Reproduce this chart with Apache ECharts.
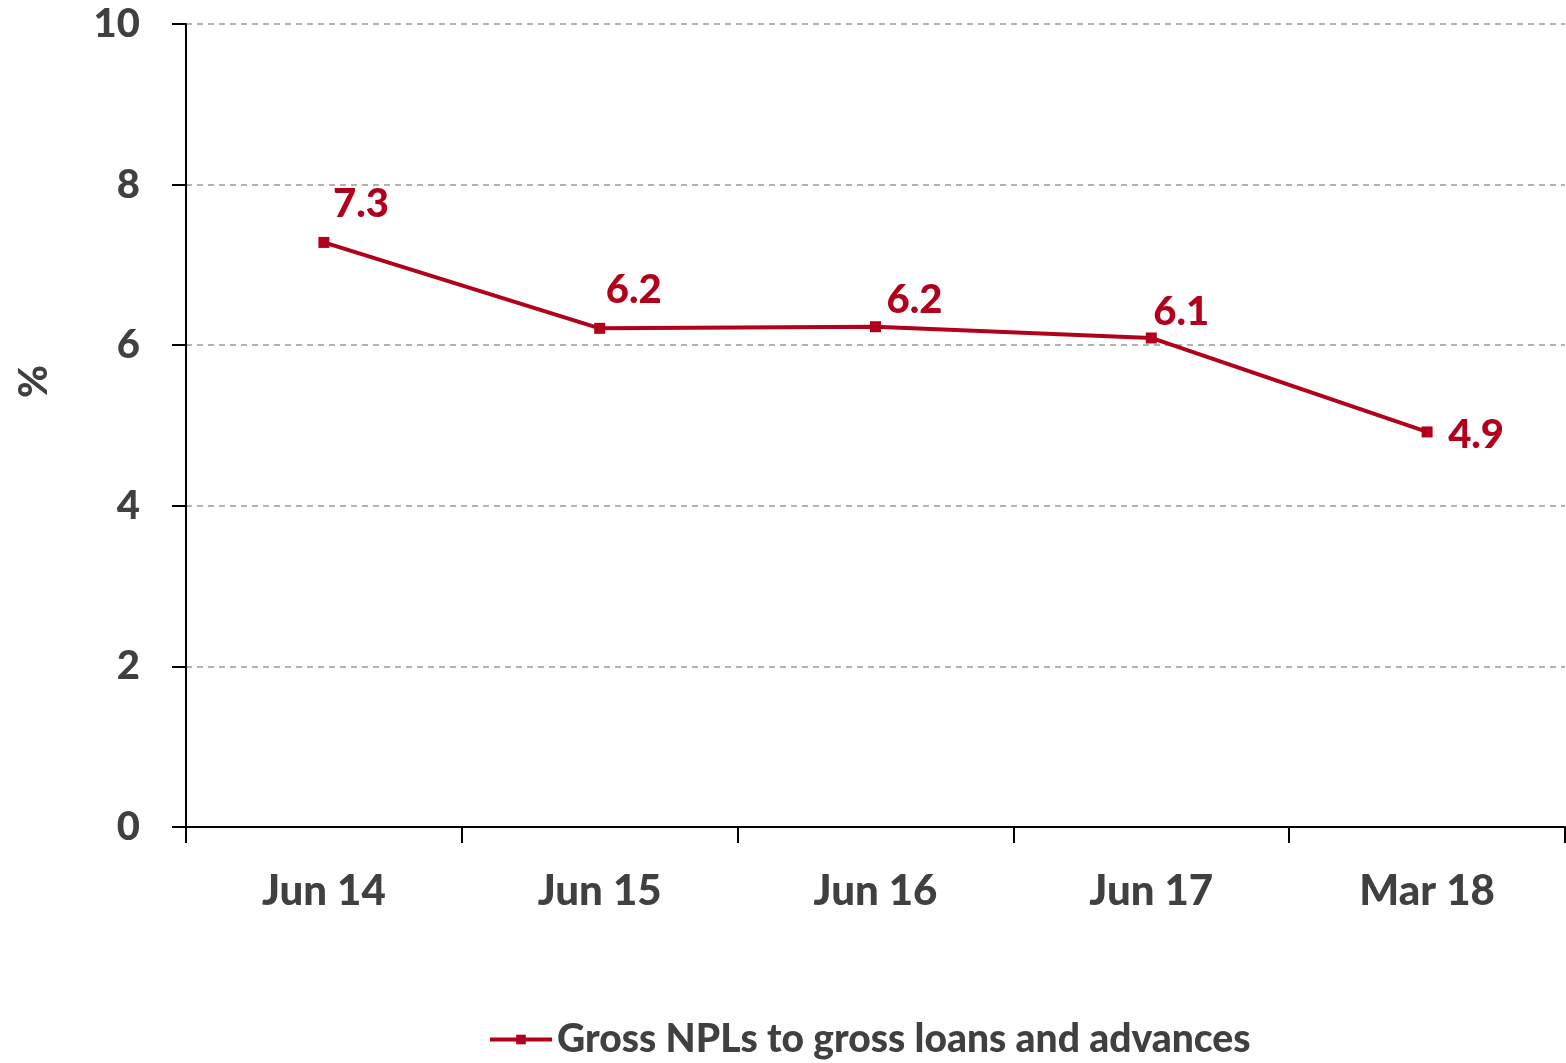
<!DOCTYPE html>
<html>
<head>
<meta charset="utf-8">
<script src="https://cdn.jsdelivr.net/npm/echarts@6/dist/echarts.min.js"></script>
<style>
  html, body { margin: 0; padding: 0; background: #fff; }
  #chart { width: 1566px; height: 1063px; }
</style>
</head>
<body>
<div id="chart"></div>
<script>
const categories = ['Jun 14', 'Jun 15', 'Jun 16', 'Jun 17', 'Mar 18']
const npls = [7.28, 6.21, 6.23, 6.09, 4.92]
const npLabels = ['7.3', '6.2', '6.2', '6.1', '4.9']
const seriesName = 'Gross NPLs to gross loans and advances'

// label placement relative to each marker (px), as in the original
const labelShift = [[37, -38], [34, -38], [39, -27], [30, -26], [49, 3]]

const red = '#B2001C'
const grey = '#404040'
const font = 'Lato, "Open Sans", sans-serif'

const chart = echarts.init(document.getElementById('chart'))

const points = npls.map((v, i) => ({
  value: v,
  label: { position: 'inside', offset: labelShift[i] },
}))

chart.setOption({
  backgroundColor: '#fff',
  textStyle: { fontFamily: font },
  grid: { left: 186, right: 1, top: 24, bottom: 236, outerBoundsMode: 'none', containLabel: false },
  legend: {
    data: [seriesName],
    left: 488,
    top: 1020,
    padding: 0,
    itemWidth: 62,
    itemHeight: 12,
    itemGap: 5,
    lineStyle: { width: 4 },
    textStyle: { fontSize: 39, fontWeight: 900, color: grey, fontFamily: font },
  },
  xAxis: {
    type: 'category',
    data: categories,
    boundaryGap: true,
    axisLine: { lineStyle: { color: '#000', width: 2 } },
    axisTick: { show: true, length: 16, lineStyle: { color: '#000', width: 2 } },
    axisLabel: { fontSize: 42, fontWeight: 900, color: grey, margin: 43 },
  },
  yAxis: {
    type: 'value',
    min: 0,
    max: 10,
    interval: 2,
    name: '%',
    nameLocation: 'middle',
    nameRotate: 90,
    nameGap: 132,
    nameTextStyle: { fontSize: 40, fontWeight: 900, color: grey, padding: [0, 0, 0, 88] },
    axisLine: { show: true, lineStyle: { color: '#000', width: 2 } },
    axisTick: { show: true, length: 14, lineStyle: { color: '#000', width: 2 } },
    axisLabel: { fontSize: 40, fontWeight: 900, color: grey, margin: 46 },
    splitLine: { lineStyle: { color: '#999', width: 1.5, type: [6, 5] } },
  },
  series: [
    {
      name: seriesName,
      type: 'line',
      data: points,
      symbol: 'rect',
      symbolSize: 11,
      lineStyle: { color: red, width: 4 },
      itemStyle: { color: red },
      label: {
        show: true,
        fontSize: 40,
        fontWeight: 900,
        color: red,
        formatter: (p) => npLabels[p.dataIndex],
      },
    },
  ],
})
</script>
</body>
</html>
